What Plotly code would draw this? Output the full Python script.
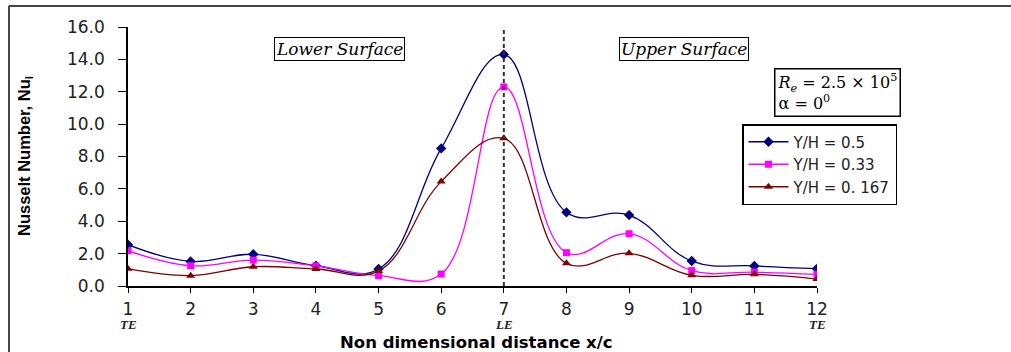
import plotly.graph_objects as go

x_pos = [1, 2, 3, 4, 5, 6, 7, 8, 9, 10, 11, 12]
nu_050 = [2.55, 1.52, 1.96, 1.25, 1.05, 8.5, 14.3, 4.55, 4.38, 1.54, 1.24, 1.07]
nu_033 = [2.18, 1.25, 1.6, 1.24, 0.64, 0.74, 12.3, 2.06, 3.23, 0.95, 0.86, 0.72]
nu_0167 = [1.07, 0.64, 1.19, 1.05, 0.93, 6.45, 9.12, 1.4, 2.02, 0.66, 0.72, 0.43]
series_names = ["Y/H = 0.5", "Y/H = 0.33", "Y/H = 0. 167"]
y_ticks = [0, 2, 4, 6, 8, 10, 12, 14, 16]
edge_labels = [(1, "TE"), (7, "LE"), (12, "TE")]

W, H = 1011, 352
L, R, T, B = 128, 194, 27, 66
pw, ph = W - L - R, H - T - B


def px(xp):
    return (xp - L) / pw


def py(yp):
    return (H - B - yp) / ph


fig = go.Figure()
styles = [
    (nu_050, "#000080", "diamond", 8),
    (nu_033, "#FF00FF", "square", 7),
    (nu_0167, "#800000", "triangle-up", 8),
]
for (vals, col, sym, sz), name in zip(styles, series_names):
    fig.add_trace(go.Scatter(
        x=x_pos, y=vals, name=name, mode="lines+markers",
        line=dict(color=col, width=1.3, shape="spline", smoothing=1.15),
        marker=dict(color=col, symbol=sym, size=sz),
    ))

fig.add_shape(type="line", x0=7, x1=7, y0=0, y1=16.1, xref="x", yref="y",
              line=dict(color="#333333", width=2, dash="4px,3px"))
# outer frame lines
fig.add_shape(type="line", xref="paper", yref="paper", x0=px(9), x1=px(1011), y0=py(6), y1=py(6),
              line=dict(color="#444444", width=2))
fig.add_shape(type="line", xref="paper", yref="paper", x0=px(9), x1=px(9), y0=py(6), y1=py(352),
              line=dict(color="#444444", width=2))


def note(xp, yp, text, font, **kw):
    fig.add_annotation(x=px(xp), y=py(yp), xref="paper", yref="paper", showarrow=False,
                       xanchor="center", yanchor="middle", text=text, font=font, **kw)


serif = "DejaVu Serif"
note(339, 49, "<i>Lower Surface</i>", dict(family=serif, size=17, color="black"),
     bordercolor="black", borderwidth=1, borderpad=1, bgcolor="white")
note(683.5, 49, "<i>Upper Surface</i>", dict(family=serif, size=17, color="black"),
     bordercolor="black", borderwidth=1, borderpad=1, bgcolor="white")
note(837.5, 92.5, "<i>R<sub>e</sub></i> = 2.5 × 10<sup>5</sup><br>α = 0<sup>0</sup>",
     dict(family=serif, size=16, color="black"), align="left",
     bordercolor="black", borderwidth=1.5, borderpad=2, bgcolor="white")
for xv, lab in edge_labels:
    fig.add_annotation(x=xv, y=py(324.5), xref="x", yref="paper", showarrow=False,
                       xanchor="center", yanchor="middle",
                       text="<b><i>" + lab + "</i></b>",
                       font=dict(family="Liberation Serif", size=13, color="#222"))
note(476, 342, "<b>Non dimensional distance x/c</b>", dict(family="DejaVu Sans", size=16.5, color="black"))
note(25, 156, "<b>Nusselt Number, Nu<sub>l</sub></b>",
     dict(family="Liberation Sans Narrow, Liberation Sans", size=16.5, color="black"), textangle=-90)

fig.update_layout(
    width=W, height=H,
    margin=dict(l=L, r=R, t=T, b=B),
    paper_bgcolor="white", plot_bgcolor="white",
    font=dict(family="DejaVu Sans", size=17, color="#222"),
    showlegend=True,
    legend=dict(x=px(742), y=py(124), xanchor="left", yanchor="top",
                bordercolor="black", borderwidth=1.5, bgcolor="white",
                font=dict(family="DejaVu Sans", size=15, color="#222"), tracegroupgap=0, itemwidth=40),
)
fig.update_xaxes(range=[1, 12], tickvals=x_pos, ticktext=[str(v) for v in x_pos],
                 showgrid=False, zeroline=False, showline=True, linecolor="black", linewidth=1.5,
                 ticks="outside", ticklen=5, tickcolor="black", tickfont=dict(size=17),
                 ticklabelstandoff=2)
fig.update_yaxes(range=[0, 16], tickvals=y_ticks, ticktext=[f"{v:.1f}" for v in y_ticks],
                 showgrid=False, zeroline=False, showline=True, linecolor="black", linewidth=1.5,
                 ticks="outside", ticklen=8, tickcolor="black", tickfont=dict(size=17),
                 ticklabelstandoff=10)

fig.write_html("out.html")
